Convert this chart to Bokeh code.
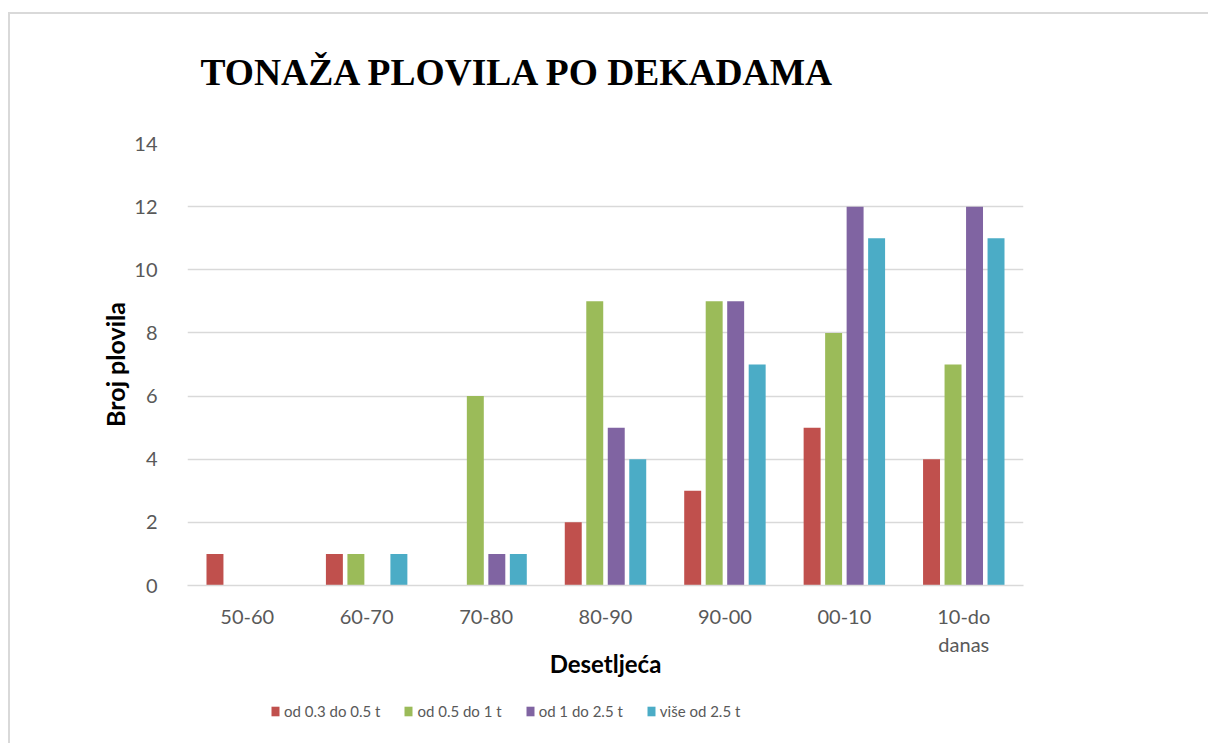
from bokeh.plotting import figure
from bokeh.layouts import column
from bokeh.models import Range1d, Legend, LegendItem, FixedTicker, Label, ColumnDataSource
from bokeh.transform import dodge
from bokeh.embed import file_html
from bokeh.resources import INLINE

title_text = "TONAŽA PLOVILA PO DEKADAMA"
categories = ["50-60", "60-70", "70-80", "80-90", "90-00", "00-10", "10-do\ndanas"]
series_names = ["od 0.3 do 0.5 t", "od 0.5 do 1 t", "od 1 do 2.5 t", "više od 2.5 t"]
s1 = [1, 1, 0, 2, 3, 5, 4]
s2 = [0, 1, 6, 9, 9, 8, 7]
s3 = [0, 0, 1, 5, 9, 12, 12]
s4 = [0, 1, 1, 4, 7, 11, 11]
colors = ["#C0504D", "#9BBB59", "#8064A2", "#4BACC6"]
offsets = [-0.27, -0.09, 0.09, 0.27]
y_ticks = [0, 2, 4, 6, 8, 10, 12, 14]

FONT = "Lato"
GRAY = "#595959"

xc = [i + 0.5 for i in range(len(categories))]
source = ColumnDataSource(dict(xc=xc, s1=s1, s2=s2, s3=s3, s4=s4))
keys = ["s1", "s2", "s3", "s4"]

# title strip
p0 = figure(width=1198, height=114, x_range=Range1d(0, 1), y_range=Range1d(0, 1),
            output_backend="svg", toolbar_location=None,
            min_border_left=0, min_border_right=0, min_border_top=0, min_border_bottom=0)
p0.axis.visible = False
p0.grid.visible = False
p0.outline_line_color = None
p0.add_layout(Label(x=13, y=56, x_units="screen", y_units="screen", text=title_text,
                    text_font="Liberation Serif", text_font_style="bold", text_font_size="37.5px",
                    text_color="#000000", text_baseline="alphabetic"))

# main chart
p = figure(width=1198, height=566, x_range=Range1d(0, len(categories)),
           y_range=Range1d(0, 14), output_backend="svg", toolbar_location=None,
           min_border_left=177, min_border_right=185, min_border_top=15, min_border_bottom=109)
p.outline_line_color = None

for k, c, off in zip(keys, colors, offsets):
    p.vbar(x=dodge("xc", off), top=k, width=0.142, source=source,
           fill_color=c, line_color=None)

p.ygrid.grid_line_color = "#d9d9d9"
p.ygrid.grid_line_width = 1.5
p.xgrid.grid_line_color = None
p.yaxis.ticker = y_ticks
p.yaxis.axis_line_color = None
p.yaxis.major_tick_line_color = None
p.yaxis.minor_tick_line_color = None
p.yaxis.major_label_text_font = FONT
p.yaxis.major_label_text_font_size = "20px"
p.yaxis.major_label_text_color = GRAY
p.yaxis.major_label_standoff = 24
p.yaxis.axis_label = "Broj plovila"
p.yaxis.axis_label_text_font = FONT
p.yaxis.axis_label_text_font_style = "bold"
p.yaxis.axis_label_text_font_size = "25px"
p.yaxis.axis_label_text_color = "#000000"
p.yaxis.axis_label_standoff = 1

p.xaxis.ticker = FixedTicker(ticks=xc)
p.xaxis.major_label_overrides = {x: c for x, c in zip(xc, categories)}
p.xaxis.axis_line_color = "#d9d9d9"
p.xaxis.axis_line_width = 1.5
p.xaxis.major_tick_line_color = None
p.xaxis.minor_tick_line_color = None
p.xaxis.major_label_text_font = FONT
p.xaxis.major_label_text_font_size = "20px"
p.xaxis.major_label_text_color = GRAY
p.xaxis.major_label_standoff = 12
p.xaxis.axis_label = "Desetljeća"
p.xaxis.axis_label_text_font = FONT
p.xaxis.axis_label_text_font_style = "bold"
p.xaxis.axis_label_text_font_size = "24px"
p.xaxis.axis_label_text_color = "#000000"
p.xaxis.axis_label_standoff = -10

# legend strip below the chart (zero-height proxy bars; only the legend shows)
p2 = figure(width=1198, height=49, x_range=Range1d(0, len(categories)), y_range=Range1d(0, 14),
            output_backend="svg", toolbar_location=None,
            min_border_left=0, min_border_right=0, min_border_top=0, min_border_bottom=0)
p2.axis.visible = False
p2.grid.visible = False
p2.outline_line_color = None
items = []
for k, name, c in zip(keys, series_names, colors):
    r = p2.vbar(x="xc", bottom=k, top=k, width=0.142, source=source,
                fill_color=c, line_color=None)
    items.append(LegendItem(label=name, renderers=[r]))
leg = Legend(items=items, orientation="horizontal", location=(83, 23),
             glyph_width=10, glyph_height=12, label_standoff=4, spacing=23,
             padding=0, margin=0, border_line_color=None, background_fill_alpha=0,
             label_text_font=FONT, label_text_font_size="15px", label_text_color=GRAY)
p2.add_layout(leg)

layout = column(p0, p, p2, spacing=0)
layout.margin = (12, 0, 0, 8)
layout.styles = {"border-top": "2px solid #d9d9d9", "border-left": "2px solid #d9d9d9"}

open("out.html", "w").write(file_html(layout, INLINE))
